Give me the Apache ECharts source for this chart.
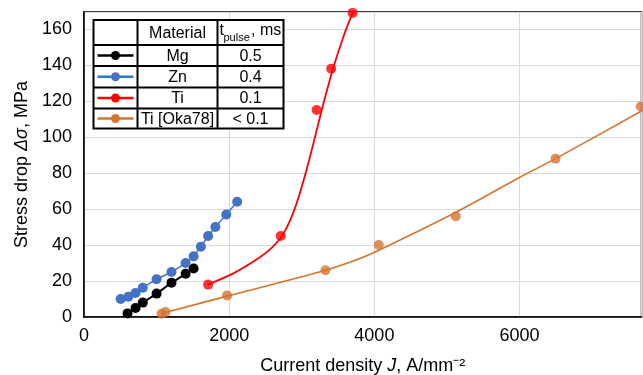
<!DOCTYPE html>
<html>
<head>
<meta charset="utf-8">
<script src="https://cdn.jsdelivr.net/npm/echarts@6/dist/echarts.min.js"></script>
<style>
  html, body { margin: 0; padding: 0; background: #fff; }
  #chart { width: 643px; height: 375px; }
</style>
</head>
<body>
<div id="chart"></div>
<script>
// Mg, 0.5 ms  [J, stress drop]
const mgData = [[600, 2], [710, 5], [810, 8], [1000, 13], [1205, 19], [1400, 24], [1510, 27]]
// Zn, 0.4 ms
const znData = [[505, 10], [610, 11.3], [710, 13.3], [810, 16.3], [1000, 21], [1205, 25], [1400, 30],
    [1510, 33.7], [1610, 39], [1710, 45], [1810, 50], [1960, 57], [2110, 64]]
// Ti, 0.1 ms: measured points and the trend curve drawn through them
const tiData = [[1710, 18], [2710, 45], [3205, 115], [3405, 138], [3700, 169]]
const tiTrend = [[1706, 18], [2064, 24.4], [2340, 31], [2500, 35.5], [2600, 39], [2700, 43.5],
    [2800, 50.2], [2900, 59.8], [3000, 72.4], [3100, 87], [3200, 102.9], [3300, 118.9],
    [3440, 139.2], [3577, 156.2], [3707, 169.7]]
// Ti [Oka78], < 0.1 ms
const okaData = [[1068, 1.8], [1123, 2.8], [1972, 12], [3326, 26], [4060, 40], [5120, 56], [6496, 88], [7670, 117]]
const okaTrend = [[1068, 2], [1972, 11.6], [3326, 26], [3800, 32.5], [4083, 37.5], [5125, 58.2],
    [6011, 77.8], [6496, 88], [7680, 114.5]]

const xTicks = [0, 2000, 4000, 6000]
const yTicks = [0, 20, 40, 60, 80, 100, 120, 140, 160]

// legend table rows: material, pulse duration, dot colour, line colour
const tableRows = [
    ['Mg', '0.5', '#000000', '#000000'],
    ['Zn', '0.4', '#4472C4', '#2E75D6'],
    ['Ti', '0.1', '#FF0000', '#FF0000'],
    ['Ti [Oka78]', '< 0.1', '#D4742F', '#D4742F']
]

const FONT = 'Liberation Sans, Arial, sans-serif'

const chartDom = document.getElementById('chart')
const myChart = echarts.init(chartDom)

// table geometry
const colX = [93.5, 137.5, 217.5, 283.5]
const rowY = [20, 45, 66, 87.5, 108.5, 128.5]
const tableEls = []
tableEls.push({
    type: 'rect', z: 100,
    shape: {x: colX[0], y: rowY[0], width: colX[3] - colX[0], height: rowY[5] - rowY[0]},
    style: {fill: '#fff', stroke: '#000', lineWidth: 2}
})
colX.slice(1, 3).forEach(x => tableEls.push({
    type: 'line', z: 101, shape: {x1: x, y1: rowY[0], x2: x, y2: rowY[5]},
    style: {stroke: '#000', lineWidth: 2}
}))
rowY.slice(1, 5).forEach(y => tableEls.push({
    type: 'line', z: 101, shape: {x1: colX[0], y1: y, x2: colX[3], y2: y},
    style: {stroke: '#000', lineWidth: 2}
}))
tableEls.push({
    type: 'text', z: 102, x: (colX[1] + colX[2]) / 2, y: (rowY[0] + rowY[1]) / 2 + 1,
    style: {text: 'Material', font: '16px ' + FONT, fill: '#000', textAlign: 'center', textVerticalAlign: 'middle'}
})
tableEls.push({
    type: 'text', z: 102, x: 219.5, y: 39,
    style: {text: 't', font: '16px ' + FONT, fill: '#000', textAlign: 'left', textVerticalAlign: 'bottom'}
})
tableEls.push({
    type: 'text', z: 102, x: 223.5, y: 43,
    style: {text: 'pulse', font: '11px ' + FONT, fill: '#000', textAlign: 'left', textVerticalAlign: 'bottom'}
})
tableEls.push({
    type: 'text', z: 102, x: 251, y: 39,
    style: {text: ', ms', font: '16px ' + FONT, fill: '#000', textAlign: 'left', textVerticalAlign: 'bottom'}
})
tableRows.forEach((r, i) => {
    const cy = (rowY[i + 1] + rowY[i + 2]) / 2
    tableEls.push({
        type: 'line', z: 102, shape: {x1: colX[0] + 4, y1: cy, x2: colX[1] - 4, y2: cy},
        style: {stroke: r[3], lineWidth: 2.5}
    })
    tableEls.push({
        type: 'circle', z: 103, shape: {cx: (colX[0] + colX[1]) / 2, cy: cy, r: 4.5},
        style: {fill: r[2]}
    })
    tableEls.push({
        type: 'text', z: 102, x: (colX[1] + colX[2]) / 2, y: cy + 1,
        style: {text: r[0], font: '16px ' + FONT, fill: '#000', textAlign: 'center', textVerticalAlign: 'middle'}
    })
    tableEls.push({
        type: 'text', z: 102, x: (colX[2] + colX[3]) / 2, y: cy + 1,
        style: {text: r[1], font: '16px ' + FONT, fill: '#000', textAlign: 'center', textVerticalAlign: 'middle'}
    })
})

const option = {
    animation: false,
    backgroundColor: '#fff',
    textStyle: {fontFamily: FONT},
    grid: {
        left: 84,
        right: 1.5,
        top: 12,
        bottom: 58,
        outerBoundsMode: 'none',
        show: true,
        borderColor: '#000',
        borderWidth: 1.5
    },
    xAxis: {
        type: 'value',
        min: 0,
        max: 7680,
        interval: 2000,
        name: '{n|Current density }{i|J}{n|, A/mm⁻²}',
        nameLocation: 'middle',
        nameGap: 40,
        nameTextStyle: {
            rich: {
                n: {fontSize: 18, color: '#000', fontFamily: FONT},
                i: {fontSize: 18, color: '#000', fontFamily: FONT, fontStyle: 'italic'}
            }
        },
        axisLine: {show: true, lineStyle: {color: '#000', width: 1.5}},
        axisTick: {show: false},
        axisLabel: {
            fontSize: 18, color: '#000', margin: 10, showMaxLabel: false,
            formatter: v => xTicks.includes(v) ? String(v) : ''
        },
        splitLine: {show: true, lineStyle: {color: '#D9D9D9', width: 1}}
    },
    yAxis: {
        type: 'value',
        min: 0,
        max: 169.5,
        interval: 20,
        name: '{n|Stress drop }{i|Δσ}{n|, MPa}',
        nameLocation: 'middle',
        nameGap: 47,
        nameTextStyle: {
            rich: {
                n: {fontSize: 18, color: '#000', fontFamily: FONT},
                i: {fontSize: 18, color: '#000', fontFamily: FONT, fontStyle: 'italic'}
            }
        },
        axisLine: {show: true, lineStyle: {color: '#000', width: 1.5}},
        axisTick: {show: false},
        axisLabel: {
            fontSize: 18, color: '#000', margin: 12, showMaxLabel: false,
            formatter: v => yTicks.includes(v) ? String(v) : ''
        },
        splitLine: {show: true, lineStyle: {color: '#D9D9D9', width: 1}}
    },
    series: [
        {
            name: 'Mg', type: 'line', data: mgData, clip: false,
            symbol: 'circle', symbolSize: 10,
            lineStyle: {color: '#000', width: 2}, itemStyle: {color: '#000'}
        },
        {
            name: 'Zn', type: 'line', data: znData, clip: false,
            symbol: 'circle', symbolSize: 10,
            lineStyle: {color: '#4472C4', width: 1.5}, itemStyle: {color: '#4472C4'}
        },
        {
            name: 'Ti trend', type: 'line', data: tiTrend, smooth: 0.3, showSymbol: false,
            lineStyle: {color: '#FF0000', width: 1.8}
        },
        {
            name: 'Ti', type: 'scatter', data: tiData, clip: false, symbolSize: 10,
            itemStyle: {color: '#FF0000'}
        },
        {
            name: 'Ti [Oka78] trend', type: 'line', data: okaTrend, smooth: 0.3, showSymbol: false,
            lineStyle: {color: '#D4742F', width: 1.6}
        },
        {
            name: 'Ti [Oka78]', type: 'scatter', data: okaData, clip: false, symbolSize: 10,
            itemStyle: {color: '#D4742F'}
        }
    ],
    graphic: tableEls
}
myChart.setOption(option)
</script>
</body>
</html>
